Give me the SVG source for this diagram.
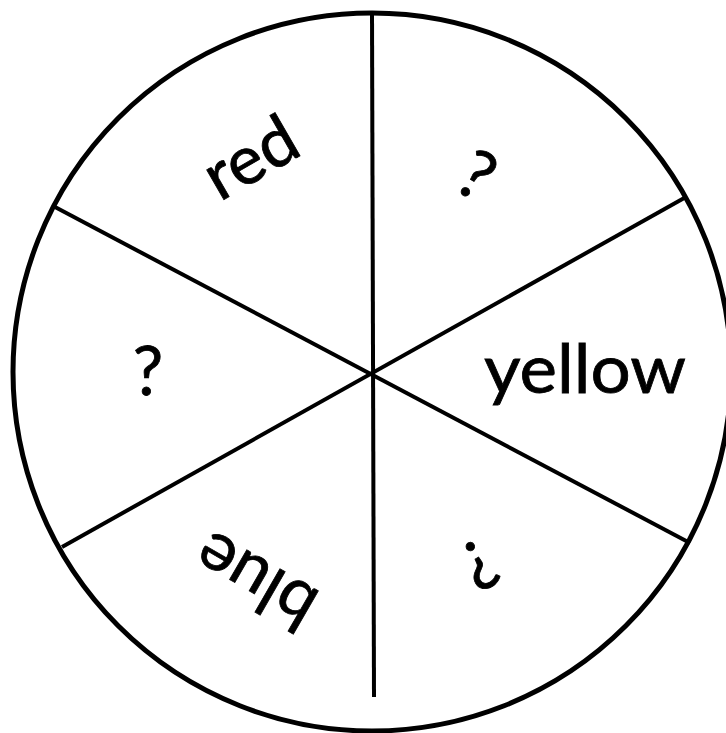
<svg xmlns="http://www.w3.org/2000/svg" width="726" height="733" viewBox="0 0 726 733">
<style>
.rim{fill:#fff;stroke:#000;stroke-width:5}
.div{stroke:#000;stroke-width:4;fill:none}
.lbl{font-family:Lato,"Noto Sans",sans-serif;font-size:68px;fill:#000;stroke:#000;stroke-width:0.8;text-anchor:middle}
</style>
<rect width="726" height="733" fill="#fff"/>
<g id="wheel">
<circle class="rim" cx="372" cy="372" r="359"/>
</g>
<g id="connectors">
<line class="div" x1="372" y1="13" x2="374" y2="697"/>
<line class="div" x1="55" y1="207" x2="690" y2="543"/>
<line class="div" x1="62" y1="547" x2="686" y2="197"/>
</g>
<g id="sector-red"><text class="lbl" transform="translate(250,157) rotate(-30)" x="0" y="24">red</text></g>
<g id="sector-q1"><text class="lbl" transform="translate(477,175) rotate(30)" x="0" y="24">?</text></g>
<g id="sector-yellow"><text class="lbl" x="585" y="393" textLength="202" lengthAdjust="spacingAndGlyphs">yellow</text></g>
<g id="sector-q2"><text class="lbl" transform="translate(479,565) rotate(150)" x="0" y="24">?</text></g>
<g id="sector-blue"><text class="lbl" transform="translate(255,582) rotate(210)" x="0" y="24">blue</text></g>
<g id="sector-q3"><text class="lbl" x="148" y="395">?</text></g>
</svg>
